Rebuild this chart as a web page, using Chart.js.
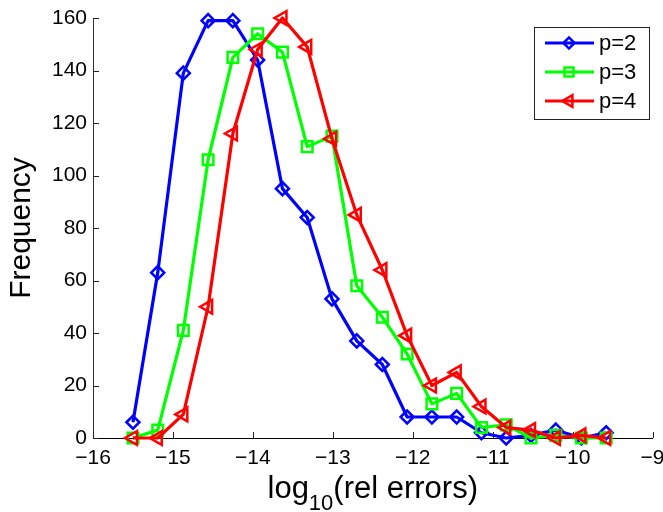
<!DOCTYPE html>
<html>
<head>
<meta charset="utf-8">
<script src="https://cdn.jsdelivr.net/npm/chart.js@4/dist/chart.umd.min.js"></script>
<style>
  html, body { margin: 0; padding: 0; background: #fff; }
  #wrap { width: 663px; height: 512px; position: relative; }
</style>
</head>
<body>
<div id="wrap"><canvas id="c" width="663" height="512"></canvas></div>
<script>
// ---- data ----
const binCenters = [-15.50, -15.19, -14.87, -14.56, -14.25, -13.94, -13.63, -13.32, -13.01, -12.70,
                    -12.38, -12.07, -11.76, -11.45, -11.14, -10.83, -10.52, -10.21, -9.89, -9.58];
const seriesP2 = [6, 63, 139, 159, 159, 144, 95, 84, 53, 37, 28, 8, 8, 8, 2, 0, 1, 3, 0, 2];
const seriesP3 = [0, 3, 41, 106, 145, 154, 147, 111, 115, 58, 46, 32, 13, 17, 4, 5, 0, 1, 0, 0];
const seriesP4 = [0, 0, 9, 50, 116, 148, 160, 149, 114, 85, 64, 39, 20, 25, 12, 4, 3, 0, 1, 0];
const seriesNames = ['p=2', 'p=3', 'p=4'];
const xTickLabels = ['\u221216', '\u221215', '\u221214', '\u221213', '\u221212', '\u221211', '\u221210', '\u22129'];
const yTickLabels = ['0', '20', '40', '60', '80', '100', '120', '140', '160'];
const xTitleMain = 'log';
const xTitleSub = '10';
const xTitleRest = '(rel errors)';
const yTitle = 'Frequency';

const FONT = '"Liberation Sans", Arial, Helvetica, sans-serif';

function toPoints(ys) { return ys.map((y, i) => ({ x: binCenters[i], y: y })); }

const styles = [
  { color: '#0000ff', pointStyle: 'rectRot', radius: 6.5, rotation: 0 },
  { color: '#00ff00', pointStyle: 'rect', radius: 7.5, rotation: 0 },
  { color: '#ff0000', pointStyle: 'triangle', radius: 8, rotation: 270 }
];
const allSeries = [seriesP2, seriesP3, seriesP4];

const datasets = allSeries.map((ys, i) => ({
  label: seriesNames[i],
  data: toPoints(ys),
  borderColor: styles[i].color,
  backgroundColor: 'rgba(0,0,0,0)',
  borderWidth: 3.2,
  pointStyle: styles[i].pointStyle,
  pointRadius: styles[i].radius,
  pointRotation: styles[i].rotation,
  pointBorderColor: styles[i].color,
  pointBackgroundColor: 'rgba(0,0,0,0)',
  pointBorderWidth: 2.5,
  pointHoverRadius: styles[i].radius,
  tension: 0,
  fill: false,
  clip: false,
  order: 3 - i
}));

function drawMarker(ctx, st, x, y) {
  ctx.save();
  ctx.strokeStyle = st.color;
  ctx.fillStyle = 'rgba(0,0,0,0)';
  ctx.lineWidth = 2.5;
  if (Chart.helpers && Chart.helpers.drawPoint) {
    Chart.helpers.drawPoint(ctx, { pointStyle: st.pointStyle, radius: st.radius * 0.85, rotation: st.rotation, borderWidth: 2.5 }, x, y);
  }
  ctx.restore();
}

const decorPlugin = {
  id: 'decor',
  beforeDatasetsDraw(chart) {
    const ctx = chart.ctx;
    const a = chart.chartArea;
    const xs = chart.scales.x, ys = chart.scales.y;
    ctx.save();
    ctx.strokeStyle = '#222';
    ctx.lineWidth = 1;
    ctx.beginPath();
    xs.ticks.forEach(t => {
      const px = Math.round(xs.getPixelForValue(t.value)) + 0.5;
      ctx.moveTo(px, a.bottom);
      ctx.lineTo(px, a.bottom - 6);
    });
    ys.ticks.forEach(t => {
      const py = Math.round(ys.getPixelForValue(t.value)) + 0.5;
      ctx.moveTo(a.left, py);
      ctx.lineTo(a.left + 6, py);
    });
    ctx.stroke();
    ctx.restore();
  },
  afterDraw(chart) {
    const ctx = chart.ctx;
    const a = chart.chartArea;
    ctx.save();
    ctx.fillStyle = '#000';
    // y title
    ctx.save();
    ctx.font = '30px ' + FONT;
    ctx.translate(30, (a.top + a.bottom) / 2);
    ctx.rotate(-Math.PI / 2);
    ctx.textAlign = 'center';
    ctx.textBaseline = 'alphabetic';
    ctx.fillText(yTitle, 0, 0);
    ctx.restore();
    // x title with subscript
    const mainFont = '31px ' + FONT, subFont = '22px ' + FONT;
    ctx.font = mainFont;
    const w1 = ctx.measureText(xTitleMain).width;
    const w3 = ctx.measureText(xTitleRest).width;
    ctx.font = subFont;
    const w2 = ctx.measureText(xTitleSub).width;
    const total = w1 + w2 + w3;
    let x0 = (a.left + a.right) / 2 - total / 2;
    const base = 498;
    ctx.textBaseline = 'alphabetic';
    ctx.textAlign = 'left';
    ctx.font = mainFont; ctx.fillText(xTitleMain, x0, base);
    ctx.font = subFont; ctx.fillText(xTitleSub, x0 + w1, base + 12);
    ctx.font = mainFont; ctx.fillText(xTitleRest, x0 + w1 + w2, base);
    // legend
    const lx = 534.5, ly = 27.5, lw = 115, lh = 92;
    ctx.fillStyle = '#fff';
    ctx.fillRect(lx, ly, lw, lh);
    ctx.strokeStyle = '#222';
    ctx.lineWidth = 1;
    ctx.strokeRect(lx, ly, lw, lh);
    const rows = [43, 72, 101];
    seriesNames.forEach((name, i) => {
      const y = rows[i];
      ctx.strokeStyle = styles[i].color;
      ctx.lineWidth = 3.2;
      ctx.beginPath();
      ctx.moveTo(545, y);
      ctx.lineTo(594, y);
      ctx.stroke();
      drawMarker(ctx, styles[i], 569, y);
      ctx.fillStyle = '#000';
      ctx.font = '22px ' + FONT;
      ctx.textAlign = 'left';
      ctx.textBaseline = 'middle';
      ctx.fillText(name, 599, y + 1);
    });
    ctx.restore();
  }
};

new Chart(document.getElementById('c'), {
  type: 'line',
  data: { datasets: datasets },
  options: {
    responsive: false,
    animation: false,
    devicePixelRatio: 1,
    layout: { padding: { left: 0, right: 6, top: 18, bottom: 0 } },
    plugins: { legend: { display: false }, tooltip: { enabled: false }, title: { display: false } },
    elements: { line: { borderJoinStyle: 'round' } },
    scales: {
      x: {
        type: 'linear',
        min: -16, max: -9,
        grid: { display: true, drawOnChartArea: false, drawTicks: false },
        border: { display: true, color: '#000', width: 1 },
        ticks: {
          stepSize: 1,
          padding: 8,
          color: '#000',
          font: { size: 21, family: FONT },
          maxRotation: 0,
          autoSkip: false,
          callback: (v, i) => xTickLabels[i]
        },
        afterFit(s) { s.height = 74; s.paddingLeft = 0; s.paddingRight = 0; }
      },
      y: {
        type: 'linear',
        min: 0, max: 160,
        grid: { display: true, drawOnChartArea: false, drawTicks: false },
        border: { display: true, color: '#333', width: 1 },
        ticks: {
          stepSize: 20,
          padding: 6,
          color: '#000',
          font: { size: 21, family: FONT },
          autoSkip: false,
          callback: (v, i) => yTickLabels[i]
        },
        afterFit(s) { s.width = 93; s.paddingTop = 0; s.paddingBottom = 0; }
      }
    }
  },
  plugins: [decorPlugin]
});
</script>
</body>
</html>
